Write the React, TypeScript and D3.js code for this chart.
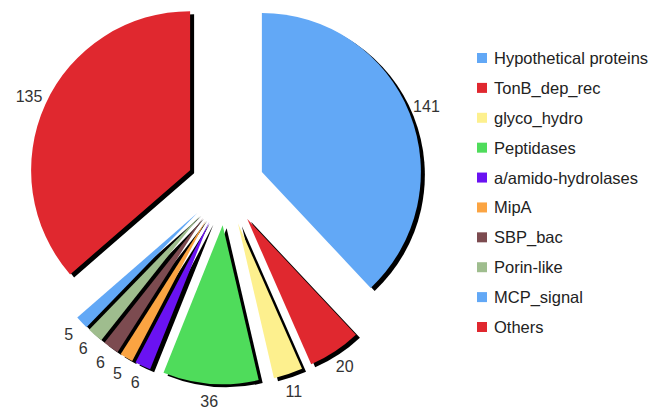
import React from "react";
import * as d3 from "d3";

const categories = [
  "Hypothetical proteins",
  "TonB_dep_rec",
  "glyco_hydro",
  "Peptidases",
  "a/amido-hydrolases",
  "MipA",
  "SBP_bac",
  "Porin-like",
  "MCP_signal",
  "Others",
];
const values = [141, 135, 11, 36, 6, 5, 6, 6, 5, 20];
const colors = [
  "#62a8f6",
  "#e0282f",
  "#fdf08e",
  "#4fdc5b",
  "#6a12f2",
  "#fba442",
  "#7c4b50",
  "#9fbd8e",
  "#62a8f6",
  "#e0282f",
];
// clockwise order of slices starting at 12 o'clock
const pieOrder = [0, 9, 2, 3, 4, 5, 6, 7, 8, 1];

const W = 653;
const H = 409;
const cx = 225.6;
const cy = 186.3;
const R = 159;
const explode = 39;
const labelR = 177;
const font = "'Liberation Sans', Arial, Helvetica, sans-serif";

export default function App() {
  const pie = d3
    .pie<number>()
    .sort(null)
    .value((i) => values[i])
    .startAngle(0)
    .endAngle(2 * Math.PI);
  const arcs = pie(pieOrder);
  const arc = d3.arc<d3.PieArcDatum<number>>().innerRadius(0).outerRadius(R);

  const legendY = d3
    .scalePoint<number>()
    .domain(d3.range(categories.length))
    .range([58, 327]);

  return (
    <div style={{ position: "absolute", left: 0, top: 0 }}>
      <svg width={W} height={H} style={{ display: "block", background: "#fff" }}>
        <defs>
          <filter id="sh" x="-20%" y="-20%" width="140%" height="140%">
            <feGaussianBlur stdDeviation="0.5" />
          </filter>
        </defs>
        {arcs.map((a, k) => {
          const mid = (a.startAngle + a.endAngle) / 2;
          const ox = cx + Math.sin(mid) * explode;
          const oy = cy - Math.cos(mid) * explode;
          return (
            <g key={"s" + k} transform={`translate(${ox},${oy})`}>
              <path d={arc(a) || ""} fill="#000" transform="translate(4,3)" filter="url(#sh)" />
            </g>
          );
        })}
        {arcs.map((a, k) => {
          const mid = (a.startAngle + a.endAngle) / 2;
          const ox = cx + Math.sin(mid) * explode;
          const oy = cy - Math.cos(mid) * explode;
          return (
            <g key={"p" + k} transform={`translate(${ox},${oy})`}>
              <path d={arc(a) || ""} fill={colors[a.data]} />
            </g>
          );
        })}
        {arcs.map((a, k) => {
          const mid = (a.startAngle + a.endAngle) / 2;
          const ox = cx + Math.sin(mid) * explode;
          const oy = cy - Math.cos(mid) * explode;
          const lx = ox + Math.sin(mid) * labelR;
          const ly = oy - Math.cos(mid) * labelR;
          return (
            <text
              key={"l" + k}
              x={lx}
              y={ly}
              textAnchor="middle"
              dominantBaseline="central"
              fontFamily={font}
              fontSize={16}
              fill="#333"
            >
              {values[a.data]}
            </text>
          );
        })}
        {categories.map((c, i) => (
          <g key={"g" + i} transform={`translate(477,${legendY(i)})`}>
            <rect x={0} y={-5} width={10} height={10} fill={colors[i]} />
            <text
              x={17}
              y={0}
              dominantBaseline="central"
              fontFamily={font}
              fontSize={16.5}
              fill="#222"
            >
              {c}
            </text>
          </g>
        ))}
      </svg>
    </div>
  );
}
